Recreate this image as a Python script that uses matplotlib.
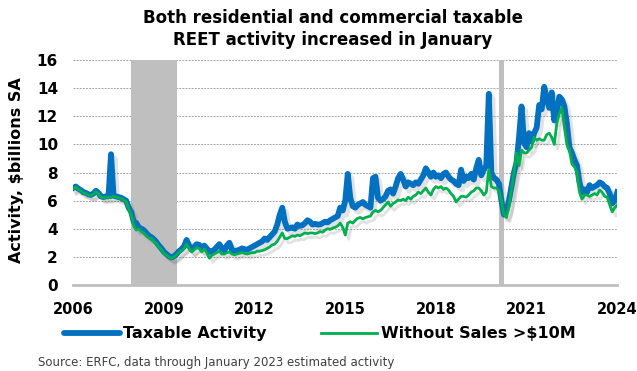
import numpy as np
import matplotlib.pyplot as plt
import matplotlib.patheffects as pe
from matplotlib.lines import Line2D

plt.rcParams['font.family'] = 'DejaVu Sans'

# monthly values, Jan 2006 .. Jan 2024 ($ billions, SA)
taxable = [
    6.9, 7.0, 6.85, 6.75, 6.6, 6.55, 6.45, 6.4, 6.5, 6.7, 6.55, 6.3,      # 2006
    6.25, 6.3, 6.3, 9.3, 6.35, 6.3, 6.25, 6.2, 6.1, 6.0, 5.5, 5.2,        # 2007
    4.5, 4.4, 4.1, 4.0, 3.9, 3.7, 3.5, 3.4, 3.25, 3.05, 2.8, 2.6,         # 2008
    2.35, 2.2, 2.05, 1.95, 2.05, 2.2, 2.4, 2.55, 2.75, 3.2, 2.8, 2.5,     # 2009
    2.7, 2.9, 2.85, 2.6, 2.8, 2.6, 2.35, 2.4, 2.5, 2.7, 2.9, 2.6,         # 2010
    2.45, 2.8, 3.0, 2.5, 2.4, 2.45, 2.5, 2.6, 2.55, 2.5, 2.6, 2.7,        # 2011
    2.8, 2.9, 3.0, 3.1, 3.3, 3.2, 3.4, 3.6, 3.8, 4.3, 5.0, 5.5,           # 2012
    4.5, 4.0, 4.05, 4.1, 4.0, 4.3, 4.2, 4.25, 4.4, 4.6, 4.5, 4.3,         # 2013
    4.35, 4.3, 4.3, 4.4, 4.5, 4.45, 4.6, 4.7, 4.8, 4.9, 5.5, 5.3,         # 2014
    6.0, 7.9, 6.2, 5.6, 5.5, 5.7, 5.8, 5.9, 5.7, 5.6, 5.5, 7.6,           # 2015
    7.7, 6.2, 6.0, 6.1, 6.3, 6.7, 6.8, 6.5, 7.0, 7.6, 7.9, 7.5,           # 2016
    7.0, 7.3, 7.2, 7.1, 7.3, 7.2, 7.5, 7.8, 8.3, 8.0, 7.7, 8.0,           # 2017
    7.7, 7.8, 7.6, 7.9, 8.0, 7.7, 7.5, 7.4, 7.2, 7.1, 8.2, 7.4,           # 2018
    7.7, 7.6, 7.9, 7.5, 8.3, 8.9, 7.8, 8.2, 8.5, 13.6, 8.0, 7.6,          # 2019
    7.5, 7.2, 6.0, 5.0, 5.3, 6.0, 7.0, 8.0, 8.7, 10.5, 12.7, 10.1,        # 2020
    9.8, 10.8, 10.2, 10.8, 11.2, 12.8, 12.5, 14.1, 13.2, 12.6, 13.7, 11.7,  # 2021
    12.3, 13.4, 13.2, 12.7, 11.5, 9.8, 9.4, 8.9, 8.5, 7.3, 6.6, 6.8,      # 2022
    6.6, 7.1, 6.9, 7.0, 7.1, 7.3, 7.2, 7.0, 6.9, 6.5, 5.8, 6.0,           # 2023
    6.6,                                                                  # 2024
]
without_10m = [
    6.85, 6.95, 6.8, 6.7, 6.55, 6.5, 6.4, 6.35, 6.45, 6.65, 6.5, 6.25,
    6.2, 6.25, 6.25, 6.2, 6.3, 6.25, 6.2, 6.15, 6.05, 5.95, 5.4, 5.0,
    4.2, 3.9, 4.0, 3.8, 3.7, 3.5, 3.35, 3.3, 3.1, 2.95, 2.7, 2.5,
    2.25, 2.1, 2.0, 1.9, 2.0, 2.15, 2.3, 2.45, 2.6, 2.9, 2.6, 2.35,
    2.5, 2.65, 2.6, 2.35, 2.55, 2.3, 1.9, 2.1, 2.2, 2.3, 2.4, 2.2,
    2.2, 2.3, 2.35, 2.2, 2.15, 2.2, 2.25, 2.3, 2.25, 2.2, 2.25, 2.3,
    2.3, 2.4, 2.4, 2.45, 2.5, 2.6, 2.7, 2.85, 2.9, 3.1, 3.4, 3.7,
    3.3, 3.3, 3.4, 3.5, 3.45, 3.55, 3.5, 3.6, 3.7, 3.65, 3.7, 3.7,
    3.65, 3.7, 3.8, 3.75, 3.9, 4.0, 3.95, 4.05, 4.1, 4.2, 4.4, 4.1,
    3.55, 4.4, 4.5, 4.4, 4.6, 4.75, 4.8, 4.7, 4.8, 4.85, 4.9, 5.2,
    5.3, 5.2, 5.3, 5.5, 5.7, 5.9, 5.6, 5.8, 5.9, 6.05, 6.0, 6.1,
    6.0, 6.25, 6.1, 6.3, 6.4, 6.6, 6.5, 6.7, 6.9, 6.6, 6.4, 6.8,
    7.0, 6.9, 7.0, 6.8, 6.9, 6.75, 6.5, 6.3, 5.9, 6.1, 6.3, 6.3,
    6.25, 6.4, 6.6, 6.7, 6.9, 6.9, 6.7, 6.4, 6.6, 8.2, 7.0, 6.9,
    6.9, 6.7, 6.0, 5.0, 4.8, 5.6, 6.8, 8.0, 9.4, 8.5, 9.6, 9.4,
    9.4, 9.6, 9.8, 10.5, 10.3, 10.4, 10.3, 10.3, 10.7, 10.8, 10.5, 10.0,
    11.5, 12.2, 12.6, 11.2, 10.0, 9.6, 8.6, 8.4, 8.0, 6.6, 6.1, 6.4,
    6.4, 6.3, 6.4, 6.5, 6.4, 6.75, 6.6, 6.3, 6.25, 5.7, 5.2, 5.5,
    5.7,
]
recessions = [(2007.92, 2009.42), (2020.1, 2020.25)]
year_ticks = [2006, 2009, 2012, 2015, 2018, 2021, 2024]

dates = 2006 + np.arange(len(taxable)) / 12.0
blue, green = '#0070C0', '#00B050'

fig = plt.figure(figsize=(6.37, 3.71), dpi=100)
ax = fig.add_axes([0.115, 0.232, 0.854, 0.606])

for a, b in recessions:
    ax.axvspan(a, b, color='#BFBFBF', lw=0, zorder=2.5)

shadow = [pe.SimpleLineShadow(offset=(2.5, -3), shadow_color='#707070', alpha=0.2), pe.Normal()]
ax.plot(dates, taxable, color=blue, lw=4.2, zorder=3, path_effects=shadow,
        solid_joinstyle='round')
ax.plot(dates, without_10m, color=green, lw=2.0, zorder=4, path_effects=shadow)

ax.set_xlim(2006, 2024)
ax.set_ylim(0, 16)
ax.set_yticks(range(0, 17, 2))
ax.set_xticks(year_ticks)
ax.tick_params(axis='x', length=0, labelsize=10.5, pad=12)
ax.tick_params(axis='y', length=0, labelsize=11, pad=11)
for lab in ax.get_xticklabels() + ax.get_yticklabels():
    lab.set_fontweight('bold')
ax.yaxis.grid(True, color='#A6A6A6', ls=(0, (2, 1.2)), lw=0.7)
ax.set_axisbelow(True)
for s in ['top', 'right', 'left']:
    ax.spines[s].set_visible(False)
ax.spines['bottom'].set_color('#BFBFBF')
ax.spines['bottom'].set_linewidth(2)

fig.text(17 / 637, 0.542, 'Activity, $billions SA', rotation=90, ha='center', va='center',
         fontsize=11.5, fontweight='bold')
fig.text(0.523, 0.975, 'Both residential and commercial taxable\nREET activity increased in January',
         ha='center', va='top', fontsize=12, fontweight='bold', linespacing=1.3)

# legend handles without the shadow
handles = [Line2D([], [], color=blue, lw=4.2, solid_capstyle='round'),
           Line2D([], [], color=green, lw=2.0)]
fig.legend(handles, ['Taxable Activity', 'Without Sales >$10M'],
           loc='center', bbox_to_anchor=(0.502, 0.1), ncol=2, frameon=False,
           handlelength=3.5, columnspacing=3.4, handletextpad=0.25,
           prop={'weight': 'bold', 'size': 11.5})
fig.text(0.06, 0.024, 'Source: ERFC, data through January 2023 estimated activity',
         fontsize=8.5, color='#404040', va='center')

fig.savefig('out.png', dpi=100)
